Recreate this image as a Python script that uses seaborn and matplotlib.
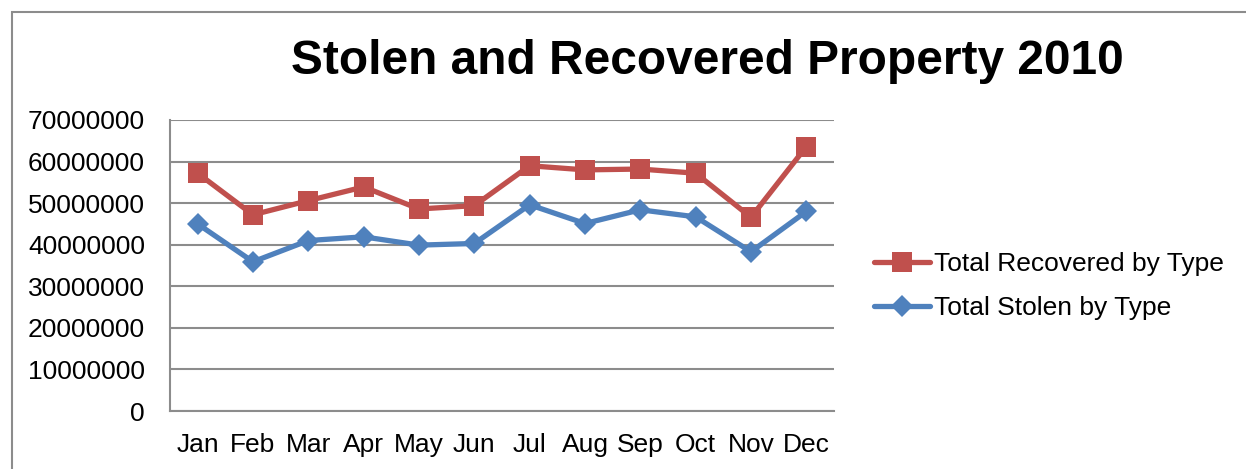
import matplotlib.pyplot as plt
import numpy as np
import pandas as pd
import seaborn as sns
from matplotlib.patches import Rectangle

sns.set_theme(style="white")
plt.rcParams["font.family"] = ["Liberation Sans", "DejaVu Sans"]
plt.rcParams["text.color"] = "black"
plt.rcParams["xtick.color"] = "black"
plt.rcParams["ytick.color"] = "black"

# data
months = ["Jan", "Feb", "Mar", "Apr", "May", "Jun",
          "Jul", "Aug", "Sep", "Oct", "Nov", "Dec"]
recovered = [57.2, 47.2, 50.6, 53.9, 48.6, 49.4,
             59.0, 58.0, 58.2, 57.2, 46.6, 63.6]
stolen = [45.0, 35.9, 41.0, 41.9, 39.9, 40.3,
          49.6, 45.1, 48.4, 46.7, 38.3, 48.0]
y_ticks = [0, 10, 20, 30, 40, 50, 60, 70]

df = pd.DataFrame({
    "pos": list(range(12)) * 2,
    "value": [v * 1e6 for v in recovered + stolen],
    "series": ["Total Recovered by Type"] * 12 + ["Total Stolen by Type"] * 12,
})

red = "#C0504D"
blue = "#4F81BD"
grid_col = "#8C8C8C"

fig = plt.figure(figsize=(12.46, 4.69), dpi=100)
ax = fig.add_axes([170 / 1246, 1 - 411 / 469, 664 / 1246, 291 / 469])

sns.lineplot(data=df[df.series == "Total Recovered by Type"], x="pos", y="value",
             color=red, marker="s", markersize=15, markeredgewidth=0,
             linewidth=3.8, label="Total Recovered by Type", ax=ax)
sns.lineplot(data=df[df.series == "Total Stolen by Type"], x="pos", y="value",
             color=blue, marker="D", markersize=11, markeredgewidth=0,
             linewidth=3.8, label="Total Stolen by Type", ax=ax)

ax.set_xlim(-0.5, 11.5)
ax.set_ylim(0, 70e6)
ax.set_yticks([t * 1e6 for t in y_ticks])
ax.set_yticklabels([str(int(t * 1e6)) for t in y_ticks], fontsize=19)
ax.set_xticks(range(12))
ax.set_xticklabels(months, fontsize=19)
ax.tick_params(axis="x", length=0, pad=16, colors="black")
ax.tick_params(axis="y", length=0, pad=18, colors="black")
ax.set_xlabel("")
ax.set_ylabel("")
ax.yaxis.grid(True, color=grid_col, linewidth=1.5)
ax.set_axisbelow(True)
for side in ["top", "right"]:
    ax.spines[side].set_visible(False)
for side in ["left", "bottom"]:
    ax.spines[side].set_color(grid_col)
    ax.spines[side].set_linewidth(1.5)

ax.legend(loc="center left", bbox_to_anchor=(1.045, 0.43), frameon=False,
          fontsize=19, handlelength=2.1, handletextpad=0.15, labelspacing=0.75,
          borderaxespad=0)

fig.text(0.568, 0.869, "Stolen and Recovered Property 2010", ha="center",
         va="center", fontsize=34.5, fontweight="bold", color="black")

# outer chart frame
fig.patches.append(Rectangle((12 / 1246, -0.1), 1.2, 1.1 - 12 / 469,
                             transform=fig.transFigure, fill=False,
                             edgecolor=grid_col, linewidth=1.5))

fig.savefig("out.png", dpi=100)
